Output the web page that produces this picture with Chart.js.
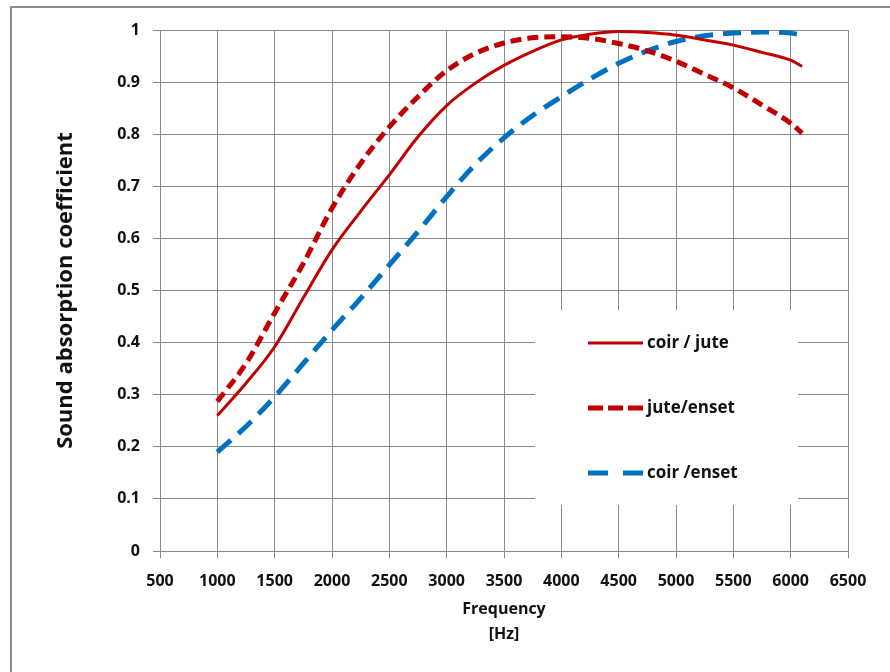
<!DOCTYPE html>
<html>
<head>
<meta charset="utf-8">
<title>Sound absorption coefficient</title>
<script src="https://cdn.jsdelivr.net/npm/chart.js@4.4.1/dist/chart.umd.min.js"></script>
<style>
    html, body { margin: 0; padding: 0; background: #fff; }
    #wrap { width: 890px; height: 672px; }
</style>
</head>
<body>
<div id="wrap"><canvas id="absorptionChart" width="890" height="672"></canvas></div>
<script>
// data
const frequencies = [1000, 1250, 1500, 1750, 2000, 2250, 2500, 2750, 3000, 3250, 3500,
    3750, 4000, 4250, 4500, 4750, 5000, 5250, 5500, 5750, 6000, 6100];

const coirJute = [0.26, 0.322, 0.392, 0.486, 0.578, 0.652, 0.722, 0.795, 0.855, 0.898, 0.932,
    0.959, 0.981, 0.992, 0.997, 0.995, 0.99, 0.981, 0.971, 0.957, 0.942, 0.93];

const juteEnset = [0.287, 0.36, 0.457, 0.552, 0.658, 0.744, 0.814, 0.872, 0.922, 0.955, 0.975,
    0.985, 0.987, 0.984, 0.974, 0.96, 0.94, 0.915, 0.889, 0.856, 0.821, 0.802];

const coirEnset = [0.19, 0.239, 0.296, 0.36, 0.424, 0.485, 0.549, 0.613, 0.68, 0.742, 0.793,
    0.836, 0.872, 0.906, 0.936, 0.96, 0.978, 0.989, 0.994, 0.996, 0.994, 0.99];

const seriesNames = ['coir / jute', 'jute/enset', 'coir /enset'];
const xTicks = [500, 1000, 1500, 2000, 2500, 3000, 3500, 4000, 4500, 5000, 5500, 6000, 6500];
const yTicks = [0, 0.1, 0.2, 0.3, 0.4, 0.5, 0.6, 0.7, 0.8, 0.9, 1];

const RED = '#C00000';
const BLUE = '#0070C0';
const GRID = '#8a8a8a';
const FONT = '"Open Sans", Lato, sans-serif';

function toPoints(values) {
    return frequencies.map((f, i) => ({ x: f, y: values[i] }));
}

// outer frame like the exported picture
const framePlugin = {
    id: 'frame',
    beforeDraw(chart) {
        const c = chart.ctx;
        c.save();
        c.fillStyle = '#fff';
        c.fillRect(0, 0, chart.width, chart.height);
        c.strokeStyle = '#8c8c8c';
        c.lineWidth = 2;
        c.strokeRect(11, 7, chart.width + 20, chart.height + 20);
        c.restore();
    }
};

// white legend box placed inside the plot
const boxLegend = {
    id: 'boxLegend',
    beforeDatasetsDraw(chart) {
        const c = chart.ctx;
        const dashes = [[], [15, 5], [20, 15]];
        c.save();
        c.fillStyle = '#fff';
        c.fillRect(535, 310, 263, 195);
        chart.data.datasets.forEach((ds, i) => {
            const y = 343 + i * 65;
            c.beginPath();
            c.strokeStyle = ds.borderColor;
            c.lineWidth = ds.borderWidth;
            c.setLineDash(dashes[i]);
            c.moveTo(588, y);
            c.lineTo(643, y);
            c.stroke();
            c.setLineDash([]);
            c.fillStyle = '#111';
            c.font = 'bold 17px ' + FONT;
            c.textAlign = 'left';
            c.textBaseline = 'middle';
            c.fillText(ds.label, 647, y);
        });
        c.restore();
    }
};

new Chart(document.getElementById('absorptionChart').getContext('2d'), {
    type: 'line',
    data: {
        datasets: [{
            label: seriesNames[0],
            data: toPoints(coirJute),
            borderColor: RED,
            borderWidth: 3,
            cubicInterpolationMode: 'monotone'
        }, {
            label: seriesNames[1],
            data: toPoints(juteEnset),
            borderColor: RED,
            borderWidth: 5,
            borderDash: [11, 6],
            cubicInterpolationMode: 'monotone'
        }, {
            label: seriesNames[2],
            data: toPoints(coirEnset),
            borderColor: BLUE,
            borderWidth: 5,
            borderDash: [18, 10],
            cubicInterpolationMode: 'monotone'
        }]
    },
    options: {
        responsive: false,
        animation: false,
        elements: { point: { radius: 0 } },
        layout: { padding: { left: 0, right: 42, top: 30, bottom: 0 } },
        scales: {
            x: {
                type: 'linear',
                min: 500,
                max: 6500,
                afterBuildTicks: scale => { scale.ticks = xTicks.map(v => ({ value: v })); },
                afterFit: scale => { scale.height = 121; },
                ticks: {
                    color: '#111',
                    padding: 14,
                    maxRotation: 0,
                    autoSkip: false,
                    font: { family: FONT, size: 16, weight: 'bold' },
                    callback: v => String(v)
                },
                grid: { color: GRID, tickLength: 7, lineWidth: 1 },
                border: { color: GRID },
                title: {
                    display: true,
                    text: ['Frequency', '[Hz]'],
                    color: '#111',
                    font: { family: FONT, size: 16, weight: 'bold', lineHeight: '25px' },
                    padding: { bottom: 25 }
                }
            },
            y: {
                min: 0,
                max: 1,
                afterBuildTicks: scale => { scale.ticks = yTicks.map(v => ({ value: v })); },
                afterFit: scale => { scale.width = 160; },
                ticks: {
                    color: '#111',
                    padding: 13,
                    font: { family: FONT, size: 16, weight: 'bold' },
                    callback: v => String(Math.round(v * 10) / 10)
                },
                grid: { color: GRID, tickLength: 7, lineWidth: 1 },
                border: { color: GRID },
                title: {
                    display: true,
                    text: 'Sound absorption coefficient',
                    color: '#111',
                    font: { family: FONT, size: 22, weight: 'bold', lineHeight: 1.2 },
                    padding: { top: 53 }
                }
            }
        },
        plugins: {
            legend: { display: false },
            tooltip: { enabled: false }
        }
    },
    plugins: [framePlugin, boxLegend]
});
</script>
</body>
</html>
